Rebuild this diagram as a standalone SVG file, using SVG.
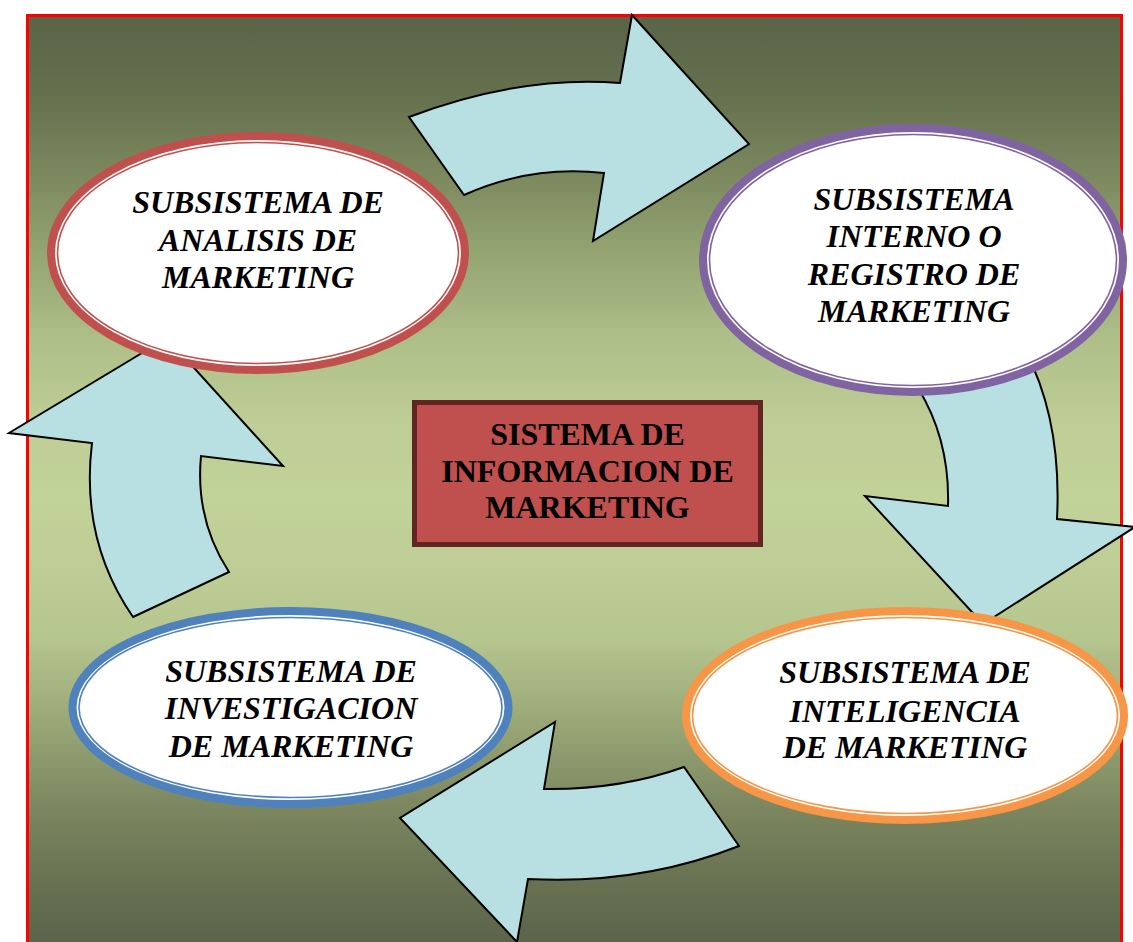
<svg xmlns="http://www.w3.org/2000/svg" width="1133" height="942" viewBox="0 0 1133 942">
  <defs>
    <linearGradient id="bg" gradientUnits="userSpaceOnUse" x1="0" y1="17" x2="0" y2="942">
      <stop offset="0" stop-color="#5a6448"/>
      <stop offset="0.09" stop-color="#66714f"/>
      <stop offset="0.176" stop-color="#7d8a5f"/>
      <stop offset="0.252" stop-color="#93a371"/>
      <stop offset="0.349" stop-color="#afbf89"/>
      <stop offset="0.436" stop-color="#bdcd95"/>
      <stop offset="0.522" stop-color="#c2d39a"/>
      <stop offset="0.609" stop-color="#bccc94"/>
      <stop offset="0.674" stop-color="#b5c58e"/>
      <stop offset="0.76" stop-color="#9aa877"/>
      <stop offset="0.846" stop-color="#7e8962"/>
      <stop offset="0.922" stop-color="#6b7554"/>
      <stop offset="1" stop-color="#5b644a"/>
    </linearGradient>
    <style>
      .arrow { fill: #b8dfe2; stroke: #000; stroke-width: 2; stroke-linejoin: miter; }
      .band { fill: #ffffff; stroke-width: 8; }
      .thin { fill: none; stroke-width: 1.6; }
      .lbl { font-family: "Liberation Serif", "Times New Roman", serif; font-weight: bold; font-style: italic; font-size: 32px; fill: #000; text-anchor: middle; }
      .ctr { font-family: "Liberation Serif", "Times New Roman", serif; font-weight: bold; font-size: 32px; fill: #000; text-anchor: middle; }
    </style>
  </defs>

  <rect x="0" y="0" width="1133" height="942" fill="#ffffff"/>
  <rect x="27.5" y="15.5" width="1094" height="940" fill="url(#bg)" stroke="#ff0000" stroke-width="3"/>

  <g id="connectors">
    <path class="arrow" d="M409,117 Q520,75 620,83 L632,15 L749,144 L593,241 L604,173 Q530,165 464,195 Z"/>
    <path class="arrow" d="M918,388 Q950,440 948,506 L865,496 L983,624 L1135,527 L1057,519 Q1062,420 1025,350 Z"/>
    <path class="arrow" d="M739,846 L684,767 Q620,790 544,789 L555,722 L400,818 L517,942 L528,879 Q640,885 739,846 Z"/>
    <path class="arrow" d="M133,617 L229,572 Q195,520 201,456 L283,466 L167,338 L9,433 L92,443 Q80,540 133,617 Z"/>
  </g>

  <g id="node-analisis">
    <ellipse class="band" cx="258" cy="253" rx="207" ry="117" stroke="#c0504d"/>
    <ellipse class="thin" cx="258" cy="253" rx="200.5" ry="110.5" stroke="#c0504d"/>
    <text class="lbl" x="258" y="213">SUBSISTEMA DE</text>
    <text class="lbl" x="258" y="251">ANALISIS DE</text>
    <text class="lbl" x="258" y="288">MARKETING</text>
  </g>

  <g id="node-interno">
    <ellipse class="band" cx="913" cy="260" rx="210" ry="132" stroke="#8064a2"/>
    <ellipse class="thin" cx="913" cy="260" rx="203.5" ry="125.5" stroke="#8064a2"/>
    <text class="lbl" x="914" y="210">SUBSISTEMA</text>
    <text class="lbl" x="914" y="247">INTERNO O</text>
    <text class="lbl" x="914" y="285">REGISTRO DE</text>
    <text class="lbl" x="914" y="322">MARKETING</text>
  </g>

  <g id="node-investigacion">
    <ellipse class="band" cx="290.5" cy="707.5" rx="218" ry="96.5" stroke="#4f81bd"/>
    <ellipse class="thin" cx="290.5" cy="707.5" rx="211.5" ry="90" stroke="#4f81bd"/>
    <text class="lbl" x="291" y="682">SUBSISTEMA DE</text>
    <text class="lbl" x="291" y="719">INVESTIGACION</text>
    <text class="lbl" x="291" y="757">DE MARKETING</text>
  </g>

  <g id="node-inteligencia">
    <ellipse class="band" cx="905" cy="715.5" rx="219" ry="104.5" stroke="#f79646"/>
    <ellipse class="thin" cx="905" cy="715.5" rx="212.5" ry="98" stroke="#f79646"/>
    <text class="lbl" x="905" y="683">SUBSISTEMA DE</text>
    <text class="lbl" x="905" y="722">INTELIGENCIA</text>
    <text class="lbl" x="905" y="758">DE MARKETING</text>
  </g>

  <g id="node-sistema">
    <rect x="414.5" y="402.5" width="346" height="142" fill="#c0504d" stroke="#632523" stroke-width="5"/>
    <text class="ctr" x="587.5" y="445">SISTEMA DE</text>
    <text class="ctr" x="587.5" y="482">INFORMACION DE</text>
    <text class="ctr" x="587.5" y="518">MARKETING</text>
  </g>
</svg>
